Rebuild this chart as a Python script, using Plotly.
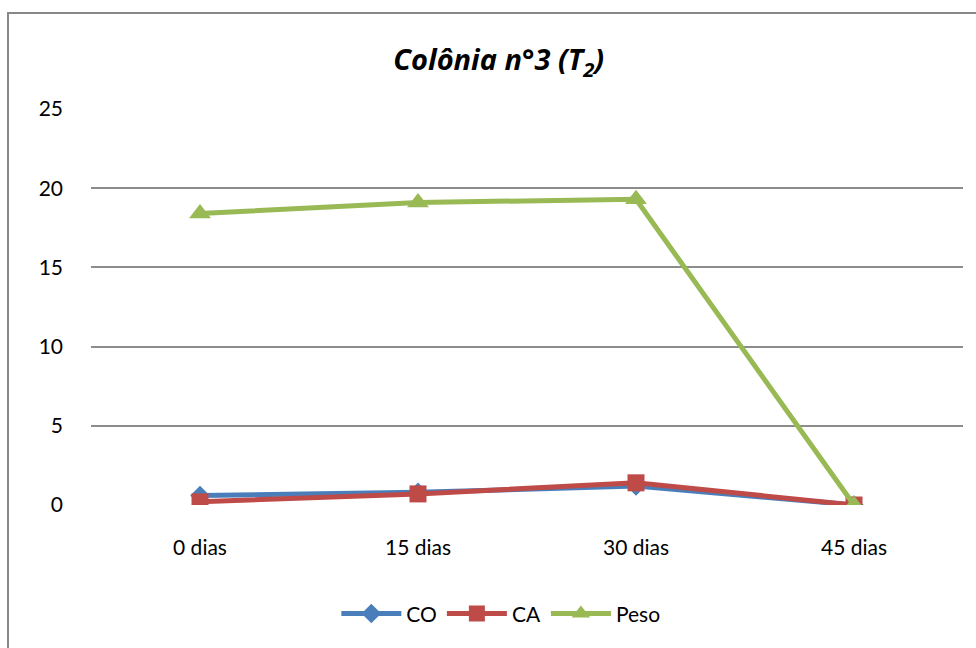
import plotly.graph_objects as go

categories = ["0 dias", "15 dias", "30 dias", "45 dias"]
co = [0.6, 0.8, 1.2, 0.0]
ca = [0.2, 0.7, 1.4, 0.0]
peso = [18.4, 19.1, 19.3, 0.0]
y_ticks = [0, 5, 10, 15, 20, 25]

FONT = "Lato, 'Open Sans', sans-serif"

fig = go.Figure()
fig.add_trace(go.Scatter(x=categories, y=co, name="CO", mode="lines+markers",
                         line=dict(color="#4A7EBB", width=5),
                         marker=dict(symbol="diamond", size=15, color="#4A7EBB")))
fig.add_trace(go.Scatter(x=categories, y=ca, name="CA", mode="lines+markers",
                         line=dict(color="#BE4B48", width=5),
                         marker=dict(symbol="square", size=17, color="#BE4B48")))
fig.add_trace(go.Scatter(x=categories, y=peso, name="Peso", mode="lines+markers",
                         line=dict(color="#98B954", width=5),
                         marker=dict(symbol="triangle-up", size=19, color="#98B954")))

fig.update_layout(
    width=976, height=648,
    margin=dict(l=91, r=13, t=109, b=143),
    paper_bgcolor="white", plot_bgcolor="white",
    font=dict(family=FONT, size=21, color="black"),
    title=dict(text="<b><i>Colônia n°3 (T<sub>2</sub>)</i></b>", xref="container", x=0.511,
               xanchor="center", yref="container", y=0.907, yanchor="middle",
               font=dict(size=29, family="'Open Sans', sans-serif", weight="bold", style="italic")),
    showlegend=True,
    legend=dict(orientation="h", x=0.47, xanchor="center", y=-0.275, yanchor="middle",
                font=dict(size=21), itemwidth=60, traceorder="normal"),
    xaxis=dict(type="category", range=[-0.5, 3.5], showgrid=False, zeroline=False, showline=False,
               ticks="", ticklabelstandoff=28, tickfont=dict(size=21)),
    yaxis=dict(range=[0, 25], tickvals=y_ticks, showgrid=True, gridcolor="#8c8c8c",
               gridwidth=1.5, zeroline=False, showline=False, ticks="",
               ticklabelstandoff=27, tickfont=dict(size=21)),
)

fig.add_shape(type="rect", xref="paper", yref="paper",
              x0=(8 - 91) / 872, x1=1.2, y0=-0.5, y1=(505 - 13) / 396,
              line=dict(color="#888888", width=2), fillcolor="rgba(0,0,0,0)", layer="below")

fig.write_html("out.html")
